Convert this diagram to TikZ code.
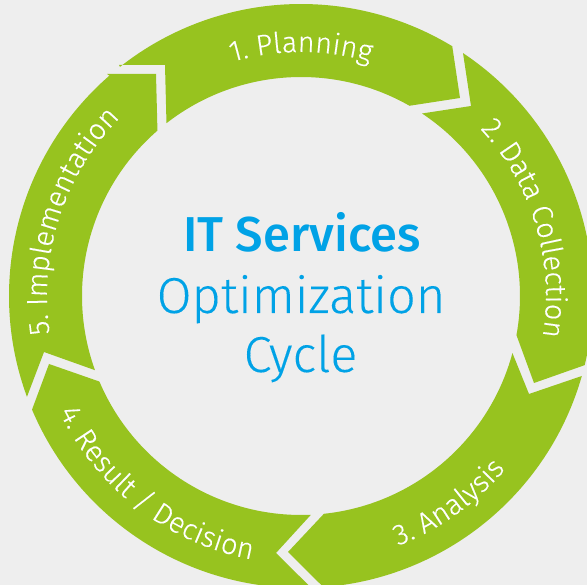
\documentclass[tikz,border=0pt]{standalone}
\usepackage{fontspec}
\usetikzlibrary{calc,decorations.text}
\setmainfont{Fira Sans}
\newfontfamily\firalight[FakeBold=0.12]{Fira Sans Light}
\newfontfamily\firabook[FakeBold=0.25]{Fira Sans Light}
\newfontfamily\firamed{Fira Sans Medium}
\definecolor{ringgreen}{HTML}{97C31F}
\definecolor{bgrey}{HTML}{EEEEEE}
\definecolor{titleblue}{HTML}{00A2E6}
\tikzset{
  seg/.style={fill=ringgreen,draw=none},
  title/.style={text=titleblue,inner sep=0pt,anchor=base},
  curved/.style={decorate,decoration={text along path,text align={align=center},
     text={|\firabook\fontsize{29}{29}\selectfont\color{white}|#1}}}
}
\begin{document}
\begin{tikzpicture}[x=1pt,y=1pt]
\useasboundingbox (0,0) rectangle (587,585);
\fill[bgrey] (0,0) rectangle (587,585);
\coordinate (c) at (301,289);
\begin{scope}
\clip (0,0) rectangle (587,585);
% 1 Planning
\path[seg] (119,520) -- ($(c)+(128.3:292pt)$) arc[start angle=128.3,end angle=58.8,radius=292pt]
  -- (460,487) -- ($(c)+(60.3:219pt)$) arc[start angle=60.3,end angle=127.9,radius=219pt]
  -- (165,520) -- cycle;
% 2 Data Collection
\path[seg] ($(c)+(56.3:292pt)$) arc[start angle=56.3,end angle=-13.7,radius=292pt]
  -- (534,202) -- ($(c)+(-10.3:219pt)$) arc[start angle=-10.3,end angle=56.45,radius=219pt]
  -- (471,479) -- cycle;
% 3 Analysis
\path[seg] ($(c)+(-15.9:292pt)$) arc[start angle=-15.9,end angle=-85.6,radius=292pt]
  -- (288,33) -- ($(c)+(-84:219pt)$) arc[start angle=-84,end angle=-15.1,radius=219pt]
  -- (529,191) -- cycle;
% 4 Result / Decision
\path[seg] ($(c)+(202.9:292pt)$) arc[start angle=202.9,end angle=272,radius=292pt]
  -- (276,32) -- ($(c)+(272.6:219pt)$) arc[start angle=272.6,end angle=203,radius=219pt]
  -- (49,221) -- cycle;
% 5 Implementation
\path[seg] ($(c)+(200.2:292pt)$) arc[start angle=200.2,end angle=131,radius=292pt]
  -- (107,511) -- (156,511) -- ($(c)+(130.96:219pt)$) arc[start angle=130.96,end angle=199.8,radius=219pt]
  -- (44,233) -- cycle;
\end{scope}
% curved labels
\path[curved={1. Planning}] ($(c)+(125:244pt)$) arc[start angle=125,end angle=55,radius=244pt];
\path[curved={2. Data Collection}] ($(c)+(54.5:245pt)$) arc[start angle=54.5,end angle=-21,radius=245pt];
\path[curved={3. Analysis}] ($(c)+(-84.5:268pt)$) arc[start angle=-84.5,end angle=-24.5,radius=268pt];
\path[curved={4. Result / Decision}] ($(c)+(194.5:268pt)$) arc[start angle=194.5,end angle=270.5,radius=268pt];
\path[curved={5. Implementation}] ($(c)+(200:254pt)$) arc[start angle=200,end angle=124,radius=254pt];
% centre
\node[title,font=\firamed\fontsize{49}{49}\selectfont] (t1) at (302,333) {IT Services};
\node[title,font=\firalight\fontsize{50.5}{50.5}\selectfont] (t2) at (301,272) {Optimization};
\node[title,font=\firalight\fontsize{50.5}{50.5}\selectfont] (t3) at (300.5,213) {Cycle};
\end{tikzpicture}
\end{document}
